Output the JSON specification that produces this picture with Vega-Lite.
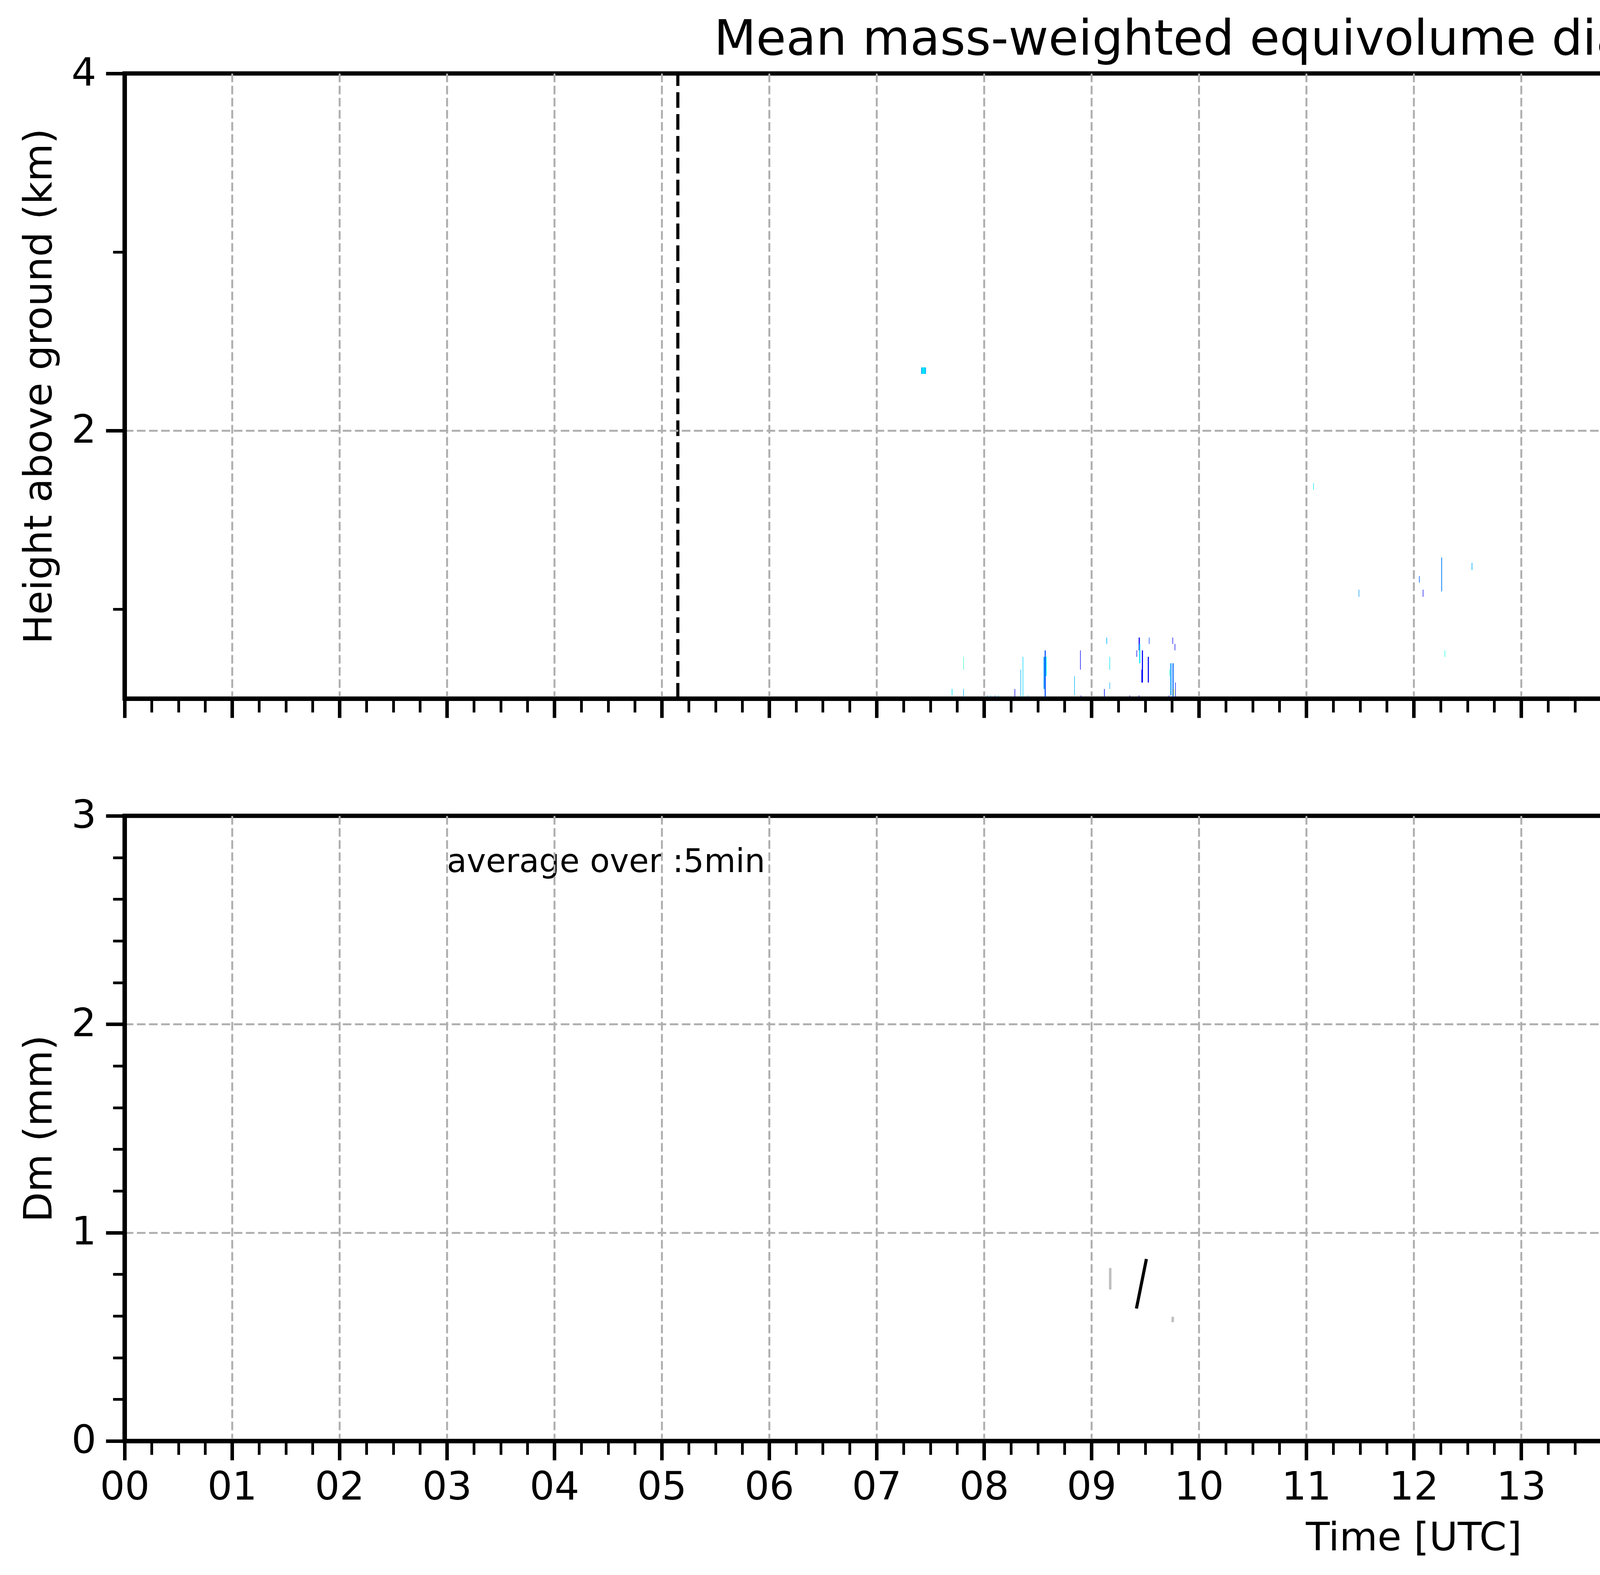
{
  "$schema": "https://vega.github.io/schema/vega-lite/v6.json",
  "usermeta": {"embedOptions": {"actions": false}},
  "padding": {"left": 45, "top": 34, "right": 20, "bottom": 46},
  "background": "white",
  "bounds": "flush",
  "spacing": 300,
  "config": {
    "view": {"stroke": "black", "strokeWidth": 11},
    "font": "DejaVu Sans",
    "axis": {
      "labelFont": "DejaVu Sans", "labelFontSize": 100, "labelColor": "black",
      "titleFont": "DejaVu Sans", "titleFontSize": 100, "titleFontWeight": "normal", "titleColor": "black",
      "tickColor": "black", "domainColor": "black",
      "gridColor": "#b0b0b0", "gridWidth": 5, "gridDash": [22, 9],
      "labelOverlap": false, "labelFlush": false
    }
  },
  "datasets": {
    "dm": [
      {"t":7.415,"t2":7.46,"h":2.318,"h2":2.354,"dm":0.6},
      {"t":7.425,"t2":7.45,"h":2.318,"h2":2.354,"dm":0.7},
      {"t":7.7,"t2":7.706,"h":0.518,"h2":0.554,"dm":0.7},
      {"t":7.807,"t2":7.812,"h":0.662,"h2":0.734,"dm":0.85},
      {"t":7.807,"t2":7.812,"h":0.48,"h2":0.554,"dm":0.6},
      {"t":8.03,"t2":8.035,"h":0.48,"h2":0.518,"dm":0.55},
      {"t":8.06,"t2":8.065,"h":0.48,"h2":0.518,"dm":0.6},
      {"t":8.1,"t2":8.105,"h":0.48,"h2":0.518,"dm":0.5},
      {"t":8.13,"t2":8.135,"h":0.48,"h2":0.518,"dm":0.6},
      {"t":8.285,"t2":8.29,"h":0.48,"h2":0.554,"dm":0.2},
      {"t":8.34,"t2":8.345,"h":0.48,"h2":0.662,"dm":0.6},
      {"t":8.36,"t2":8.365,"h":0.48,"h2":0.734,"dm":0.66},
      {"t":8.41,"t2":8.415,"h":0.48,"h2":0.518,"dm":0.6},
      {"t":8.555,"t2":8.565,"h":0.554,"h2":0.734,"dm":0.55},
      {"t":8.565,"t2":8.575,"h":0.48,"h2":0.77,"dm":0.4},
      {"t":8.575,"t2":8.583,"h":0.626,"h2":0.734,"dm":0.7},
      {"t":8.84,"t2":8.845,"h":0.518,"h2":0.626,"dm":0.6},
      {"t":8.895,"t2":8.9,"h":0.662,"h2":0.77,"dm":0.2},
      {"t":8.9,"t2":8.905,"h":0.48,"h2":0.518,"dm":0.3},
      {"t":9.118,"t2":9.124,"h":0.48,"h2":0.554,"dm":0.3},
      {"t":9.14,"t2":9.146,"h":0.806,"h2":0.842,"dm":0.6},
      {"t":9.168,"t2":9.173,"h":0.662,"h2":0.734,"dm":0.7},
      {"t":9.168,"t2":9.173,"h":0.554,"h2":0.59,"dm":0.6},
      {"t":9.355,"t2":9.36,"h":0.48,"h2":0.518,"dm":0.3},
      {"t":9.42,"t2":9.425,"h":0.734,"h2":0.77,"dm":0.2},
      {"t":9.44,"t2":9.45,"h":0.77,"h2":0.842,"dm":0.2},
      {"t":9.445,"t2":9.455,"h":0.698,"h2":0.806,"dm":0.7},
      {"t":9.44,"t2":9.446,"h":0.48,"h2":0.518,"dm":0.3},
      {"t":9.465,"t2":9.47,"h":0.59,"h2":0.662,"dm":0.2},
      {"t":9.47,"t2":9.48,"h":0.59,"h2":0.77,"dm":0.25},
      {"t":9.525,"t2":9.535,"h":0.59,"h2":0.734,"dm":0.2},
      {"t":9.535,"t2":9.54,"h":0.806,"h2":0.842,"dm":0.4},
      {"t":9.72,"t2":9.725,"h":0.48,"h2":0.518,"dm":0.25},
      {"t":9.725,"t2":9.73,"h":0.626,"h2":0.662,"dm":0.8},
      {"t":9.735,"t2":9.745,"h":0.518,"h2":0.698,"dm":0.55},
      {"t":9.755,"t2":9.765,"h":0.48,"h2":0.698,"dm":0.45},
      {"t":9.765,"t2":9.77,"h":0.518,"h2":0.554,"dm":1.3},
      {"t":9.755,"t2":9.76,"h":0.806,"h2":0.842,"dm":0.2},
      {"t":9.775,"t2":9.78,"h":0.77,"h2":0.806,"dm":0.2},
      {"t":9.78,"t2":9.785,"h":0.48,"h2":0.59,"dm":0.3},
      {"t":11.065,"t2":11.07,"h":1.67,"h2":1.706,"dm":0.7},
      {"t":11.488,"t2":11.493,"h":1.07,"h2":1.11,"dm":0.55},
      {"t":12.05,"t2":12.056,"h":1.15,"h2":1.186,"dm":0.45},
      {"t":12.085,"t2":12.09,"h":1.07,"h2":1.11,"dm":0.2},
      {"t":12.257,"t2":12.264,"h":1.1,"h2":1.29,"dm":0.5},
      {"t":12.288,"t2":12.293,"h":0.734,"h2":0.77,"dm":0.75},
      {"t":12.54,"t2":12.546,"h":1.22,"h2":1.26,"dm":0.6},
      {"t":18.505,"t2":18.512,"h":2.39,"h2":2.426,"dm":0.5},
      {"t":18.62,"t2":18.65,"h":2.39,"h2":2.426,"dm":0.42},
      {"t":18.81,"t2":18.835,"h":2.32,"h2":2.39,"dm":0.66},
      {"t":18.835,"t2":18.86,"h":2.284,"h2":2.39,"dm":0.55},
      {"t":18.84,"t2":18.85,"h":2.17,"h2":2.21,"dm":0.45},
      {"t":18.86,"t2":18.9,"h":2.21,"h2":2.356,"dm":0.6},
      {"t":18.89,"t2":18.94,"h":2.067,"h2":2.14,"dm":0.68},
      {"t":18.9,"t2":18.98,"h":2.32,"h2":2.356,"dm":0.62},
      {"t":18.95,"t2":18.965,"h":2.284,"h2":2.32,"dm":0.45},
      {"t":18.99,"t2":19.02,"h":2.14,"h2":2.356,"dm":0.55},
      {"t":19.02,"t2":19.056,"h":2.18,"h2":2.356,"dm":0.63},
      {"t":19.0,"t2":19.06,"h":2.102,"h2":2.14,"dm":0.6},
      {"t":19.075,"t2":19.11,"h":2.14,"h2":2.32,"dm":0.6},
      {"t":19.11,"t2":19.15,"h":2.102,"h2":2.32,"dm":0.5},
      {"t":19.15,"t2":19.19,"h":2.12,"h2":2.32,"dm":0.65},
      {"t":19.19,"t2":19.225,"h":2.067,"h2":2.32,"dm":0.55},
      {"t":19.225,"t2":19.25,"h":2.031,"h2":2.32,"dm":0.6},
      {"t":19.16,"t2":19.17,"h":1.959,"h2":2.067,"dm":0.6},
      {"t":19.205,"t2":19.235,"h":1.778,"h2":2.067,"dm":0.5},
      {"t":19.235,"t2":19.26,"h":1.742,"h2":2.031,"dm":0.66},
      {"t":19.245,"t2":19.255,"h":1.67,"h2":1.742,"dm":0.2},
      {"t":19.27,"t2":19.31,"h":1.886,"h2":2.067,"dm":0.6},
      {"t":19.25,"t2":19.29,"h":2.067,"h2":2.284,"dm":0.6},
      {"t":19.29,"t2":19.33,"h":2.102,"h2":2.284,"dm":0.52},
      {"t":19.33,"t2":19.37,"h":2.067,"h2":2.284,"dm":0.64},
      {"t":19.37,"t2":19.41,"h":2.085,"h2":2.284,"dm":0.55},
      {"t":19.41,"t2":19.44,"h":2.067,"h2":2.284,"dm":0.6},
      {"t":19.335,"t2":19.36,"h":1.995,"h2":2.067,"dm":0.5},
      {"t":19.41,"t2":19.42,"h":1.995,"h2":2.067,"dm":0.45},
      {"t":19.44,"t2":19.48,"h":2.102,"h2":2.247,"dm":0.6},
      {"t":19.48,"t2":19.52,"h":2.067,"h2":2.247,"dm":0.5},
      {"t":19.52,"t2":19.56,"h":2.12,"h2":2.247,"dm":0.63},
      {"t":19.56,"t2":19.6,"h":2.067,"h2":2.247,"dm":0.55},
      {"t":19.6,"t2":19.62,"h":2.14,"h2":2.247,"dm":0.66},
      {"t":19.66,"t2":19.7,"h":2.14,"h2":2.211,"dm":0.55},
      {"t":19.7,"t2":19.74,"h":2.067,"h2":2.211,"dm":0.6},
      {"t":19.74,"t2":19.78,"h":2.102,"h2":2.211,"dm":0.45},
      {"t":19.78,"t2":19.81,"h":2.14,"h2":2.211,"dm":0.62},
      {"t":19.81,"t2":19.83,"h":2.102,"h2":2.211,"dm":0.4},
      {"t":19.895,"t2":19.935,"h":2.067,"h2":2.174,"dm":0.62},
      {"t":19.985,"t2":20.02,"h":2.14,"h2":2.174,"dm":0.5},
      {"t":20.03,"t2":20.07,"h":2.102,"h2":2.14,"dm":0.6},
      {"t":20.045,"t2":20.06,"h":1.886,"h2":2.102,"dm":0.55},
      {"t":20.07,"t2":20.11,"h":1.778,"h2":2.14,"dm":0.6},
      {"t":20.11,"t2":20.15,"h":1.67,"h2":2.14,"dm":0.5},
      {"t":20.15,"t2":20.18,"h":1.77,"h2":2.14,"dm":0.63},
      {"t":20.17,"t2":20.18,"h":1.566,"h2":1.67,"dm":0.55},
      {"t":20.18,"t2":20.215,"h":1.815,"h2":2.14,"dm":0.55},
      {"t":20.245,"t2":20.29,"h":1.924,"h2":1.995,"dm":0.45},
      {"t":20.3,"t2":20.34,"h":1.72,"h2":2.102,"dm":0.6},
      {"t":20.34,"t2":20.37,"h":1.598,"h2":2.102,"dm":0.5},
      {"t":20.37,"t2":20.41,"h":1.75,"h2":2.102,"dm":0.63},
      {"t":20.405,"t2":20.425,"h":1.455,"h2":1.598,"dm":0.4},
      {"t":20.41,"t2":20.45,"h":1.778,"h2":2.067,"dm":0.6},
      {"t":20.45,"t2":20.49,"h":1.706,"h2":2.067,"dm":0.55},
      {"t":20.49,"t2":20.53,"h":1.65,"h2":2.067,"dm":0.63},
      {"t":20.5,"t2":20.52,"h":1.383,"h2":1.65,"dm":0.5},
      {"t":20.53,"t2":20.57,"h":1.72,"h2":2.067,"dm":0.5},
      {"t":20.57,"t2":20.605,"h":1.76,"h2":2.067,"dm":0.6},
      {"t":20.605,"t2":20.65,"h":1.72,"h2":2.031,"dm":0.62},
      {"t":20.65,"t2":20.69,"h":1.67,"h2":2.031,"dm":0.55},
      {"t":20.69,"t2":20.73,"h":1.742,"h2":2.031,"dm":0.6},
      {"t":20.73,"t2":20.76,"h":1.598,"h2":2.031,"dm":0.5},
      {"t":20.75,"t2":20.77,"h":1.383,"h2":1.598,"dm":0.45},
      {"t":20.76,"t2":20.79,"h":1.7,"h2":2.031,"dm":0.6},
      {"t":20.8,"t2":20.855,"h":1.598,"h2":2.067,"dm":0.55},
      {"t":20.81,"t2":20.83,"h":1.274,"h2":1.598,"dm":0.5},
      {"t":20.855,"t2":20.91,"h":1.455,"h2":2.031,"dm":0.6},
      {"t":20.87,"t2":20.89,"h":1.346,"h2":1.455,"dm":0.4},
      {"t":20.91,"t2":20.95,"h":1.598,"h2":2.102,"dm":0.5},
      {"t":20.95,"t2":20.985,"h":1.526,"h2":2.102,"dm":0.62},
      {"t":21.02,"t2":21.06,"h":1.634,"h2":2.14,"dm":0.6},
      {"t":21.06,"t2":21.1,"h":1.43,"h2":2.14,"dm":0.55},
      {"t":21.1,"t2":21.135,"h":1.598,"h2":2.14,"dm":0.6},
      {"t":21.135,"t2":21.16,"h":1.238,"h2":1.598,"dm":0.45},
      {"t":21.135,"t2":21.19,"h":1.634,"h2":2.102,"dm":0.55},
      {"t":21.19,"t2":21.23,"h":1.598,"h2":2.067,"dm":0.62},
      {"t":21.23,"t2":21.27,"h":1.67,"h2":2.067,"dm":0.55},
      {"t":21.29,"t2":21.33,"h":1.8,"h2":2.067,"dm":0.6},
      {"t":21.33,"t2":21.37,"h":1.75,"h2":2.067,"dm":0.55},
      {"t":21.37,"t2":21.41,"h":1.85,"h2":2.067,"dm":0.63},
      {"t":21.41,"t2":21.45,"h":1.706,"h2":2.067,"dm":0.5},
      {"t":21.45,"t2":21.495,"h":1.778,"h2":2.067,"dm":0.6},
      {"t":21.485,"t2":21.5,"h":1.238,"h2":1.706,"dm":0.45},
      {"t":21.53,"t2":21.57,"h":1.706,"h2":2.067,"dm":0.6},
      {"t":21.57,"t2":21.61,"h":1.634,"h2":2.067,"dm":0.55},
      {"t":21.61,"t2":21.65,"h":1.55,"h2":2.067,"dm":0.62},
      {"t":21.65,"t2":21.69,"h":1.598,"h2":2.067,"dm":0.5},
      {"t":21.69,"t2":21.72,"h":1.706,"h2":2.067,"dm":0.6},
      {"t":21.745,"t2":21.78,"h":1.55,"h2":2.067,"dm":0.55},
      {"t":21.75,"t2":21.77,"h":1.274,"h2":1.55,"dm":0.4},
      {"t":21.78,"t2":21.82,"h":1.598,"h2":2.067,"dm":0.6},
      {"t":21.856,"t2":21.89,"h":1.62,"h2":1.959,"dm":0.55},
      {"t":21.89,"t2":21.92,"h":1.49,"h2":1.959,"dm":0.5},
      {"t":21.92,"t2":21.955,"h":1.31,"h2":1.959,"dm":0.45},
      {"t":21.925,"t2":21.96,"h":0.915,"h2":1.31,"dm":0.3},
      {"t":21.955,"t2":21.977,"h":1.4,"h2":1.959,"dm":0.55},
      {"t":21.93,"t2":21.935,"h":1.31,"h2":1.346,"dm":1.8},
      {"t":21.977,"t2":22.02,"h":1.566,"h2":2.067,"dm":0.6},
      {"t":22.02,"t2":22.06,"h":1.526,"h2":2.067,"dm":0.55},
      {"t":22.06,"t2":22.1,"h":1.65,"h2":2.067,"dm":0.62},
      {"t":22.1,"t2":22.14,"h":1.67,"h2":2.031,"dm":0.6},
      {"t":22.14,"t2":22.18,"h":1.238,"h2":2.031,"dm":0.55},
      {"t":22.18,"t2":22.22,"h":1.455,"h2":2.031,"dm":0.55},
      {"t":22.18,"t2":22.22,"h":1.1,"h2":1.455,"dm":0.45},
      {"t":22.22,"t2":22.26,"h":1.455,"h2":2.031,"dm":0.6},
      {"t":22.22,"t2":22.26,"h":0.88,"h2":1.455,"dm":0.5},
      {"t":22.26,"t2":22.3,"h":1.5,"h2":2.031,"dm":0.55},
      {"t":22.26,"t2":22.3,"h":0.93,"h2":1.5,"dm":0.4},
      {"t":22.3,"t2":22.34,"h":1.4,"h2":2.031,"dm":0.6},
      {"t":22.3,"t2":22.34,"h":0.83,"h2":1.4,"dm":0.3},
      {"t":22.34,"t2":22.38,"h":1.5,"h2":2.031,"dm":0.55},
      {"t":22.34,"t2":22.38,"h":0.95,"h2":1.5,"dm":0.45},
      {"t":22.38,"t2":22.42,"h":1.5,"h2":2.031,"dm":0.6},
      {"t":22.38,"t2":22.42,"h":0.9,"h2":1.5,"dm":0.5},
      {"t":22.42,"t2":22.46,"h":1.455,"h2":2.031,"dm":0.5},
      {"t":22.42,"t2":22.46,"h":0.85,"h2":1.455,"dm":0.35},
      {"t":22.46,"t2":22.487,"h":1.55,"h2":2.031,"dm":0.55},
      {"t":22.46,"t2":22.505,"h":0.77,"h2":1.55,"dm":0.25},
      {"t":22.505,"t2":22.524,"h":0.48,"h2":1.0,"dm":0.1},
      {"t":22.505,"t2":22.524,"h":1.0,"h2":2.102,"dm":0.3},
      {"t":22.487,"t2":22.505,"h":1.598,"h2":2.102,"dm":0.5},
      {"t":22.524,"t2":22.56,"h":1.65,"h2":2.102,"dm":0.6},
      {"t":22.56,"t2":22.61,"h":1.706,"h2":2.102,"dm":0.55},
      {"t":22.645,"t2":22.655,"h":2.031,"h2":2.102,"dm":0.6},
      {"t":22.68,"t2":22.72,"h":1.995,"h2":2.102,"dm":0.55},
      {"t":22.7,"t2":22.715,"h":1.67,"h2":1.924,"dm":0.62},
      {"t":22.82,"t2":22.86,"h":1.959,"h2":2.102,"dm":0.6},
      {"t":22.845,"t2":22.885,"h":1.383,"h2":1.995,"dm":0.55},
      {"t":22.885,"t2":22.91,"h":1.995,"h2":2.102,"dm":0.62},
      {"t":22.965,"t2":22.975,"h":1.706,"h2":2.102,"dm":0.5},
      {"t":23.155,"t2":23.22,"h":2.067,"h2":2.102,"dm":0.6},
      {"t":23.195,"t2":23.21,"h":1.778,"h2":1.995,"dm":0.6},
      {"t":23.25,"t2":23.29,"h":1.55,"h2":2.102,"dm":0.6},
      {"t":23.29,"t2":23.34,"h":1.4,"h2":2.102,"dm":0.55},
      {"t":23.34,"t2":23.38,"h":1.5,"h2":2.031,"dm":0.55},
      {"t":23.38,"t2":23.42,"h":1.42,"h2":2.031,"dm":0.45},
      {"t":23.395,"t2":23.42,"h":1.167,"h2":1.42,"dm":0.55},
      {"t":23.42,"t2":23.46,"h":1.5,"h2":2.031,"dm":0.6},
      {"t":23.46,"t2":23.5,"h":1.383,"h2":2.031,"dm":0.55},
      {"t":23.5,"t2":23.55,"h":1.455,"h2":2.031,"dm":0.5},
      {"t":23.555,"t2":23.565,"h":1.598,"h2":2.102,"dm":0.5},
      {"t":23.565,"t2":23.6,"h":1.455,"h2":1.959,"dm":0.55},
      {"t":23.6,"t2":23.64,"h":1.3,"h2":1.959,"dm":0.6},
      {"t":23.6,"t2":23.64,"h":0.85,"h2":1.3,"dm":0.45},
      {"t":23.61,"t2":23.66,"h":0.48,"h2":0.85,"dm":0.45},
      {"t":23.64,"t2":23.675,"h":0.85,"h2":1.959,"dm":0.5},
      {"t":23.675,"t2":23.69,"h":0.915,"h2":1.4,"dm":0.4},
      {"t":23.675,"t2":23.71,"h":1.4,"h2":1.959,"dm":0.55},
      {"t":23.71,"t2":23.73,"h":1.4,"h2":1.959,"dm":0.6},
      {"t":23.73,"t2":23.77,"h":1.31,"h2":1.959,"dm":0.55},
      {"t":23.76,"t2":23.78,"h":1.2,"h2":1.31,"dm":0.5},
      {"t":23.77,"t2":23.815,"h":1.42,"h2":1.959,"dm":0.6},
      {"t":23.815,"t2":23.85,"h":1.455,"h2":1.959,"dm":0.6},
      {"t":23.85,"t2":23.89,"h":1.42,"h2":1.959,"dm":0.55},
      {"t":23.87,"t2":23.89,"h":0.81,"h2":1.42,"dm":0.4},
      {"t":23.89,"t2":23.93,"h":1.49,"h2":1.959,"dm":0.62},
      {"t":23.93,"t2":23.96,"h":1.43,"h2":1.959,"dm":0.55},
      {"t":23.96,"t2":23.99,"h":1.55,"h2":1.959,"dm":0.6},
      {"t":20.12,"t2":20.128,"h":1.6,"h2":1.7,"dm":0.45},
      {"t":20.21,"t2":20.218,"h":1.75,"h2":1.82,"dm":0.6},
      {"t":20.32,"t2":20.328,"h":1.62,"h2":1.72,"dm":0.55},
      {"t":20.36,"t2":20.368,"h":1.5,"h2":1.6,"dm":0.4},
      {"t":20.44,"t2":20.448,"h":1.65,"h2":1.78,"dm":0.6},
      {"t":20.47,"t2":20.478,"h":1.52,"h2":1.71,"dm":0.45},
      {"t":20.56,"t2":20.568,"h":1.58,"h2":1.72,"dm":0.55},
      {"t":20.62,"t2":20.628,"h":1.6,"h2":1.72,"dm":0.4},
      {"t":20.67,"t2":20.678,"h":1.5,"h2":1.67,"dm":0.6},
      {"t":20.71,"t2":20.718,"h":1.58,"h2":1.74,"dm":0.5},
      {"t":20.84,"t2":20.848,"h":1.4,"h2":1.6,"dm":0.55},
      {"t":20.93,"t2":20.938,"h":1.42,"h2":1.6,"dm":0.45},
      {"t":20.97,"t2":20.978,"h":1.35,"h2":1.53,"dm":0.6},
      {"t":21.04,"t2":21.048,"h":1.5,"h2":1.64,"dm":0.5},
      {"t":21.08,"t2":21.088,"h":1.3,"h2":1.43,"dm":0.45},
      {"t":21.2,"t2":21.208,"h":1.45,"h2":1.6,"dm":0.55},
      {"t":21.25,"t2":21.258,"h":1.55,"h2":1.67,"dm":0.4},
      {"t":21.31,"t2":21.318,"h":1.62,"h2":1.8,"dm":0.55},
      {"t":21.39,"t2":21.398,"h":1.7,"h2":1.85,"dm":0.6},
      {"t":21.42,"t2":21.428,"h":1.55,"h2":1.71,"dm":0.45},
      {"t":21.55,"t2":21.558,"h":1.55,"h2":1.71,"dm":0.5},
      {"t":21.63,"t2":21.638,"h":1.42,"h2":1.55,"dm":0.6},
      {"t":21.7,"t2":21.708,"h":1.5,"h2":1.71,"dm":0.45},
      {"t":21.79,"t2":21.798,"h":1.45,"h2":1.6,"dm":0.55},
      {"t":21.87,"t2":21.878,"h":1.45,"h2":1.62,"dm":0.5},
      {"t":22.0,"t2":22.008,"h":1.4,"h2":1.57,"dm":0.55},
      {"t":22.05,"t2":22.058,"h":1.45,"h2":1.53,"dm":0.4},
      {"t":22.08,"t2":22.088,"h":1.5,"h2":1.65,"dm":0.6},
      {"t":22.12,"t2":22.128,"h":1.5,"h2":1.67,"dm":0.45},
      {"t":22.58,"t2":22.588,"h":1.55,"h2":1.71,"dm":0.5},
      {"t":23.27,"t2":23.278,"h":1.35,"h2":1.55,"dm":0.55},
      {"t":23.31,"t2":23.318,"h":1.25,"h2":1.4,"dm":0.6},
      {"t":23.45,"t2":23.458,"h":1.25,"h2":1.38,"dm":0.5},
      {"t":23.53,"t2":23.538,"h":1.3,"h2":1.455,"dm":0.45},
      {"t":23.75,"t2":23.758,"h":1.1,"h2":1.31,"dm":0.55},
      {"t":23.8,"t2":23.808,"h":1.25,"h2":1.42,"dm":0.5},
      {"t":23.84,"t2":23.848,"h":1.2,"h2":1.455,"dm":0.6},
      {"t":23.94,"t2":23.948,"h":1.3,"h2":1.43,"dm":0.5},
      {"t":23.98,"t2":23.988,"h":1.4,"h2":1.55,"dm":0.45},
      {"t":19.14,"t2":19.148,"h":2.0,"h2":2.102,"dm":0.6},
      {"t":19.31,"t2":19.318,"h":2.02,"h2":2.102,"dm":0.5},
      {"t":19.5,"t2":19.508,"h":2.0,"h2":2.067,"dm":0.6},
      {"t":19.58,"t2":19.588,"h":1.99,"h2":2.067,"dm":0.45},
      {"t":19.75,"t2":19.758,"h":2.03,"h2":2.102,"dm":0.6},
      {"t":19.03,"t2":19.04,"h":2.2,"h2":2.356,"dm":0.3},
      {"t":19.12,"t2":19.13,"h":2.15,"h2":2.32,"dm":0.25},
      {"t":19.2,"t2":19.21,"h":2.1,"h2":2.3,"dm":0.72},
      {"t":19.3,"t2":19.31,"h":2.12,"h2":2.28,"dm":0.3},
      {"t":19.39,"t2":19.4,"h":2.1,"h2":2.28,"dm":0.72},
      {"t":19.47,"t2":19.48,"h":2.12,"h2":2.24,"dm":0.3},
      {"t":19.55,"t2":19.56,"h":2.1,"h2":2.24,"dm":0.75},
      {"t":19.72,"t2":19.73,"h":2.1,"h2":2.21,"dm":0.25},
      {"t":19.8,"t2":19.81,"h":2.14,"h2":2.21,"dm":0.75},
      {"t":20.09,"t2":20.1,"h":1.8,"h2":2.12,"dm":0.3},
      {"t":20.16,"t2":20.17,"h":1.85,"h2":2.12,"dm":0.75},
      {"t":20.33,"t2":20.34,"h":1.75,"h2":2.09,"dm":0.3},
      {"t":20.44,"t2":20.45,"h":1.8,"h2":2.05,"dm":0.72},
      {"t":20.52,"t2":20.53,"h":1.7,"h2":2.05,"dm":0.3},
      {"t":20.63,"t2":20.64,"h":1.75,"h2":2.02,"dm":0.3},
      {"t":20.7,"t2":20.71,"h":1.8,"h2":2.02,"dm":0.75},
      {"t":20.78,"t2":20.79,"h":1.72,"h2":2.02,"dm":0.25},
      {"t":20.93,"t2":20.94,"h":1.62,"h2":2.09,"dm":0.3},
      {"t":21.05,"t2":21.06,"h":1.66,"h2":2.13,"dm":0.72},
      {"t":21.21,"t2":21.22,"h":1.62,"h2":2.06,"dm":0.3},
      {"t":21.35,"t2":21.36,"h":1.78,"h2":2.06,"dm":0.75},
      {"t":21.43,"t2":21.44,"h":1.72,"h2":2.06,"dm":0.3},
      {"t":21.59,"t2":21.6,"h":1.65,"h2":2.06,"dm":0.3},
      {"t":21.67,"t2":21.68,"h":1.62,"h2":2.06,"dm":0.75},
      {"t":21.8,"t2":21.81,"h":1.62,"h2":2.06,"dm":0.25},
      {"t":21.91,"t2":21.92,"h":1.52,"h2":1.95,"dm":0.72},
      {"t":22.04,"t2":22.05,"h":1.55,"h2":2.06,"dm":0.3},
      {"t":22.12,"t2":22.13,"h":1.7,"h2":2.02,"dm":0.75},
      {"t":22.24,"t2":22.25,"h":1.5,"h2":2.02,"dm":0.3},
      {"t":22.36,"t2":22.37,"h":1.55,"h2":2.02,"dm":0.72},
      {"t":22.44,"t2":22.45,"h":1.5,"h2":2.02,"dm":0.3},
      {"t":22.58,"t2":22.59,"h":1.72,"h2":2.09,"dm":0.25},
      {"t":23.28,"t2":23.29,"h":1.58,"h2":2.09,"dm":0.3},
      {"t":23.4,"t2":23.41,"h":1.45,"h2":2.02,"dm":0.72},
      {"t":23.48,"t2":23.49,"h":1.42,"h2":2.02,"dm":0.3},
      {"t":23.62,"t2":23.63,"h":1.35,"h2":1.95,"dm":0.72},
      {"t":23.72,"t2":23.73,"h":1.42,"h2":1.95,"dm":0.3},
      {"t":23.83,"t2":23.84,"h":1.47,"h2":1.95,"dm":0.75},
      {"t":23.91,"t2":23.92,"h":1.5,"h2":1.95,"dm":0.3},
      {"t":23.97,"t2":23.98,"h":1.56,"h2":1.95,"dm":0.72},
      {"t":19.09,"t2":19.097,"h":2.15,"h2":2.3,"dm":0.72},
      {"t":19.17,"t2":19.177,"h":2.13,"h2":2.3,"dm":0.3},
      {"t":19.27,"t2":19.277,"h":2.1,"h2":2.27,"dm":0.72},
      {"t":19.36,"t2":19.367,"h":2.08,"h2":2.27,"dm":0.35},
      {"t":19.43,"t2":19.437,"h":2.08,"h2":2.26,"dm":0.72},
      {"t":19.51,"t2":19.517,"h":2.08,"h2":2.23,"dm":0.35},
      {"t":19.61,"t2":19.617,"h":2.15,"h2":2.23,"dm":0.3},
      {"t":19.68,"t2":19.687,"h":2.15,"h2":2.2,"dm":0.72},
      {"t":20.05,"t2":20.057,"h":1.9,"h2":2.12,"dm":0.75},
      {"t":20.13,"t2":20.137,"h":1.7,"h2":2.12,"dm":0.35},
      {"t":20.2,"t2":20.207,"h":1.83,"h2":2.12,"dm":0.72},
      {"t":20.38,"t2":20.387,"h":1.77,"h2":2.09,"dm":0.35},
      {"t":20.48,"t2":20.487,"h":1.72,"h2":2.05,"dm":0.75},
      {"t":20.58,"t2":20.587,"h":1.78,"h2":2.05,"dm":0.35},
      {"t":20.66,"t2":20.667,"h":1.68,"h2":2.02,"dm":0.72},
      {"t":20.74,"t2":20.747,"h":1.61,"h2":2.02,"dm":0.35},
      {"t":20.82,"t2":20.827,"h":1.61,"h2":2.05,"dm":0.72},
      {"t":20.88,"t2":20.887,"h":1.47,"h2":2.02,"dm":0.35},
      {"t":20.96,"t2":20.967,"h":1.53,"h2":2.09,"dm":0.72},
      {"t":21.08,"t2":21.087,"h":1.44,"h2":2.13,"dm":0.35},
      {"t":21.17,"t2":21.177,"h":1.64,"h2":2.09,"dm":0.72},
      {"t":21.25,"t2":21.257,"h":1.68,"h2":2.06,"dm":0.35},
      {"t":21.31,"t2":21.317,"h":1.8,"h2":2.06,"dm":0.72},
      {"t":21.47,"t2":21.477,"h":1.78,"h2":2.06,"dm":0.35},
      {"t":21.55,"t2":21.557,"h":1.71,"h2":2.06,"dm":0.72},
      {"t":21.63,"t2":21.637,"h":1.56,"h2":2.06,"dm":0.35},
      {"t":21.71,"t2":21.717,"h":1.71,"h2":2.06,"dm":0.72},
      {"t":21.76,"t2":21.767,"h":1.56,"h2":2.06,"dm":0.3},
      {"t":21.87,"t2":21.877,"h":1.63,"h2":1.95,"dm":0.3},
      {"t":21.94,"t2":21.947,"h":1.32,"h2":1.95,"dm":0.72},
      {"t":21.94,"t2":21.947,"h":0.92,"h2":1.1,"dm":0.12},
      {"t":22.0,"t2":22.007,"h":1.57,"h2":2.06,"dm":0.75},
      {"t":22.08,"t2":22.087,"h":1.66,"h2":2.06,"dm":0.35},
      {"t":22.16,"t2":22.167,"h":1.25,"h2":2.02,"dm":0.35},
      {"t":22.2,"t2":22.207,"h":1.46,"h2":2.02,"dm":0.72},
      {"t":22.24,"t2":22.247,"h":0.9,"h2":1.2,"dm":0.1},
      {"t":22.28,"t2":22.287,"h":1.5,"h2":2.02,"dm":0.72},
      {"t":22.31,"t2":22.317,"h":0.84,"h2":1.1,"dm":0.1},
      {"t":22.32,"t2":22.327,"h":1.41,"h2":2.02,"dm":0.35},
      {"t":22.36,"t2":22.367,"h":0.96,"h2":1.2,"dm":0.12},
      {"t":22.4,"t2":22.407,"h":1.5,"h2":2.02,"dm":0.72},
      {"t":22.44,"t2":22.447,"h":0.86,"h2":1.1,"dm":0.1},
      {"t":22.48,"t2":22.487,"h":0.78,"h2":1.0,"dm":0.1},
      {"t":22.54,"t2":22.547,"h":1.66,"h2":2.09,"dm":0.72},
      {"t":22.6,"t2":22.607,"h":1.71,"h2":2.09,"dm":0.35},
      {"t":23.26,"t2":23.267,"h":1.56,"h2":2.09,"dm":0.72},
      {"t":23.32,"t2":23.327,"h":1.41,"h2":2.09,"dm":0.35},
      {"t":23.36,"t2":23.367,"h":1.5,"h2":2.02,"dm":0.72},
      {"t":23.44,"t2":23.447,"h":1.5,"h2":2.02,"dm":0.35},
      {"t":23.52,"t2":23.527,"h":1.46,"h2":2.02,"dm":0.72},
      {"t":23.58,"t2":23.587,"h":1.46,"h2":1.95,"dm":0.72},
      {"t":23.62,"t2":23.627,"h":0.5,"h2":0.9,"dm":0.1},
      {"t":23.66,"t2":23.667,"h":0.86,"h2":1.95,"dm":0.72},
      {"t":23.7,"t2":23.707,"h":1.41,"h2":1.95,"dm":0.35},
      {"t":23.79,"t2":23.797,"h":1.43,"h2":1.95,"dm":0.72},
      {"t":23.87,"t2":23.877,"h":1.43,"h2":1.95,"dm":0.35},
      {"t":23.95,"t2":23.957,"h":1.44,"h2":1.95,"dm":0.72}
    ],
    "raw": [
      {"seg":"a","t":9.175,"v":0.83},{"seg":"a","t":9.175,"v":0.727},
      {"seg":"b","t":9.757,"v":0.596},{"seg":"b","t":9.757,"v":0.57},
      {"seg":"c","t":22.51,"v":0.996},{"seg":"c","t":22.51,"v":0.586},
      {"seg":"d","t":23.59,"v":1.075},{"seg":"d","t":23.59,"v":0.119}
    ],
    "avg": [
      {"t":9.422,"v":0.643},{"t":9.509,"v":0.866}
    ]
  },
  "vconcat": [
    {
      "width": 6600,
      "height": 1600,
      "title": {"text": "Mean mass-weighted equivolume diameter on 20250929", "fontSize": 125, "font": "DejaVu Sans", "fontWeight": "normal", "color": "black", "anchor": "middle", "frame": "group", "baseline": "alphabetic", "offset": -127},
      "layer": [
        {
          "data": {"name": "dm"},
          "mark": {"type": "rect", "clip": true},
          "encoding": {
            "x": {"field": "t", "type": "quantitative", "scale": {"domain": [0, 24], "nice": false, "zero": false},
              "axis": {"orient": "bottom", "values": [0,1,2,3,4,5,6,7,8,9,10,11,12,13,14,15,16,17,18,19,20,21,22,23], "labels": false, "title": null, "grid": true, "gridOpacity": {"condition": {"test": "datum.value === 0", "value": 0}, "value": 1}, "ticks": true, "tickSize": 49, "tickWidth": 9, "domain": true, "domainWidth": 11, "zindex": 1}},
            "x2": {"field": "t2"},
            "y": {"field": "h", "type": "quantitative", "scale": {"domain": [0.5, 4], "nice": false, "zero": false},
              "axis": {"orient": "left", "values": [2, 4], "format": "d", "labelPadding": 25, "tickSize": 48, "tickWidth": 9, "grid": true, "gridOpacity": {"condition": {"test": "datum.value === 4", "value": 0}, "value": 1}, "domain": true, "domainWidth": 11, "title": "Height above ground (km)", "titleX": -188, "titleY": 800, "titleAngle": 270, "titleAlign": "center", "titleBaseline": "alphabetic", "zindex": 1}},
            "y2": {"field": "h2"},
            "color": {"field": "dm", "type": "quantitative",
              "scale": {"type": "linear", "domain": [0, 0.22, 0.25, 0.68, 0.7, 0.75, 1.28, 1.3, 1.32, 1.78, 1.82, 2.0], "range": ["#000080", "#0000ff", "#0000ff", "#00dbff", "#00e6f7", "#15ffe2", "#eeff08", "#f7f500", "#ffec00", "#ff1300", "#e80000", "#800000"], "interpolate": "rgb", "clamp": true},
              "legend": {"orient": "none", "legendX": 6677, "legendY": 0, "direction": "vertical", "padding": 0, "gradientLength": 1598, "gradientThickness": 111, "gradientStrokeColor": "black", "gradientStrokeWidth": 5, "values": [0, 0.4, 0.8, 1.2, 1.6, 2.0], "format": ".1f", "labelFont": "DejaVu Sans", "labelFontSize": 85, "labelColor": "black", "labelOffset": 52, "labelOverlap": false, "labelAlign": "left", "title": "Dm (mm)", "titleOrient": "right", "titleFont": "DejaVu Sans", "titleFontSize": 85, "titleFontWeight": "normal", "titleColor": "black", "titlePadding": 9, "titleAnchor": "middle", "titleBaseline": "top", "titleLimit": 2000,
                "encode": {"labels": {"update": {"baseline": {"value": "middle"}}}, "title": {"update": {"angle": {"value": 270}}}}}}
          }
        },
        {
          "data": {"values": [{"t": 5.15}, {"t": 16.96}]},
          "mark": {"type": "rule", "color": "black", "strokeWidth": 8, "strokeDash": [40, 16]},
          "encoding": {
            "x": {"field": "t", "type": "quantitative", "scale": {"domain": [0, 24], "nice": false, "zero": false},
              "axis": {"orient": "bottom", "values": [0,0.25,0.5,0.75,1,1.25,1.5,1.75,2,2.25,2.5,2.75,3,3.25,3.5,3.75,4,4.25,4.5,4.75,5,5.25,5.5,5.75,6,6.25,6.5,6.75,7,7.25,7.5,7.75,8,8.25,8.5,8.75,9,9.25,9.5,9.75,10,10.25,10.5,10.75,11,11.25,11.5,11.75,12,12.25,12.5,12.75,13,13.25,13.5,13.75,14,14.25,14.5,14.75,15,15.25,15.5,15.75,16,16.25,16.5,16.75,17,17.25,17.5,17.75,18,18.25,18.5,18.75,19,19.25,19.5,19.75,20,20.25,20.5,20.75,21,21.25,21.5,21.75,22,22.25,22.5,22.75,23,23.25,23.5,23.75,24], "labels": false, "title": null, "grid": false, "tickSize": 35, "tickWidth": 7, "domain": false, "zindex": 1}},
            "y": {"datum": 0.5, "type": "quantitative",
              "axis": {"orient": "left", "values": [1, 3], "labels": false, "title": null, "grid": false, "tickSize": 30, "tickWidth": 7, "domain": false, "zindex": 1}},
            "y2": {"datum": 4}
          }
        }
      ],
      "resolve": {"axis": {"x": "independent", "y": "independent"}}
    },
    {
      "width": 6600,
      "height": 1600,
      "layer": [
        {
          "data": {"name": "raw"},
          "mark": {"type": "line", "color": "#c0c0c0", "strokeWidth": 6.5, "clip": true},
          "encoding": {
            "x": {"field": "t", "type": "quantitative", "scale": {"domain": [0, 24], "nice": false, "zero": false},
              "axis": {"orient": "bottom", "values": [0,1,2,3,4,5,6,7,8,9,10,11,12,13,14,15,16,17,18,19,20,21,22,23], "format": "02d", "labelPadding": 21, "grid": true, "gridOpacity": {"condition": {"test": "datum.value === 0", "value": 0}, "value": 1}, "tickSize": 49, "tickWidth": 9, "domain": true, "domainWidth": 11, "title": "Time [UTC]", "titleX": 3300, "titleY": 279, "titleAlign": "center", "titleBaseline": "alphabetic", "zindex": 1}},
            "y": {"field": "v", "type": "quantitative", "scale": {"domain": [0, 3], "nice": false, "zero": false},
              "axis": {"orient": "left", "values": [0, 1, 2, 3], "format": "d", "labelPadding": 25, "tickSize": 48, "tickWidth": 9, "grid": true, "gridOpacity": {"condition": {"test": "datum.value === 0 || datum.value === 3", "value": 0}, "value": 1}, "domain": true, "domainWidth": 11, "title": "Dm (mm)", "titleX": -188, "titleY": 800, "titleAngle": 270, "titleAlign": "center", "titleBaseline": "alphabetic", "zindex": 1}},
            "detail": {"field": "seg"}
          }
        },
        {
          "data": {"name": "avg"},
          "mark": {"type": "line", "color": "black", "strokeWidth": 8, "strokeCap": "square"},
          "encoding": {
            "x": {"field": "t", "type": "quantitative", "scale": {"domain": [0, 24], "nice": false, "zero": false},
              "axis": {"orient": "bottom", "values": [0,0.25,0.5,0.75,1,1.25,1.5,1.75,2,2.25,2.5,2.75,3,3.25,3.5,3.75,4,4.25,4.5,4.75,5,5.25,5.5,5.75,6,6.25,6.5,6.75,7,7.25,7.5,7.75,8,8.25,8.5,8.75,9,9.25,9.5,9.75,10,10.25,10.5,10.75,11,11.25,11.5,11.75,12,12.25,12.5,12.75,13,13.25,13.5,13.75,14,14.25,14.5,14.75,15,15.25,15.5,15.75,16,16.25,16.5,16.75,17,17.25,17.5,17.75,18,18.25,18.5,18.75,19,19.25,19.5,19.75,20,20.25,20.5,20.75,21,21.25,21.5,21.75,22,22.25,22.5,22.75,23,23.25,23.5,23.75,24], "labels": false, "title": null, "grid": false, "tickSize": 35, "tickWidth": 7, "domain": false, "zindex": 1}},
            "y": {"field": "v", "type": "quantitative", "scale": {"domain": [0, 3], "nice": false, "zero": false},
              "axis": {"orient": "left", "values": [0.2,0.4,0.6,0.8,1.2,1.4,1.6,1.8,2.2,2.4,2.6,2.8], "labels": false, "title": null, "grid": false, "tickSize": 30, "tickWidth": 7, "domain": false, "zindex": 1}}
          }
        },
        {
          "data": {"values": [{"t": 3.0, "v": 2.73, "label": "average over :5min"}]},
          "mark": {"type": "text", "align": "left", "baseline": "alphabetic", "fontSize": 83, "font": "DejaVu Sans", "color": "black"},
          "encoding": {
            "x": {"field": "t", "type": "quantitative", "axis": null},
            "y": {"field": "v", "type": "quantitative", "axis": null},
            "text": {"field": "label"}
          }
        }
      ],
      "resolve": {"axis": {"x": "independent", "y": "independent"}}
    }
  ]
}
